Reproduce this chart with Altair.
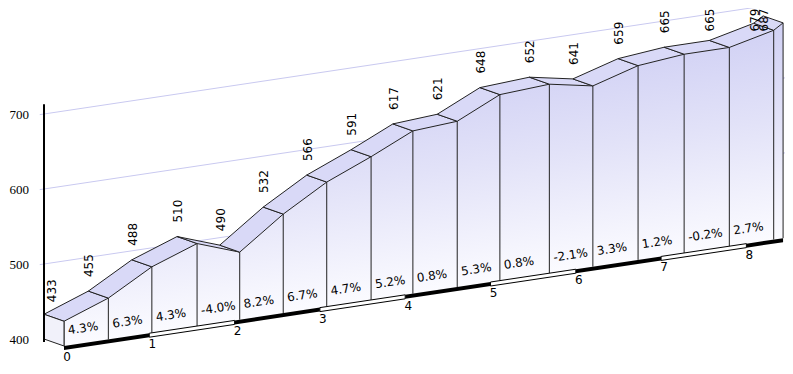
import altair as alt
import pandas as pd

# ---- data ----
dist_km = [0.00, 0.52, 1.03, 1.56, 2.06, 2.57, 3.08, 3.60, 4.09, 4.61,
           5.11, 5.69, 6.20, 6.73, 7.27, 7.80, 8.32, 8.43]
elev_m = [433, 455, 488, 510, 490, 532, 566, 591, 617, 621,
          648, 652, 641, 659, 665, 665, 679, 687]
grade_labels = ["4.3%", "6.3%", "4.3%", "-4.0%", "8.2%", "6.7%", "4.7%", "5.2%",
                "0.8%", "5.3%", "0.8%", "-2.1%", "3.3%", "1.2%", "-0.2%", "2.7%"]
km_ticks = [0, 1, 2, 3, 4, 5, 6, 7, 8]
elev_ticks = [400, 500, 600, 700]
grid_ticks = [500, 600, 700]
BASE = 400

# ---- oblique projection (layout parameters) ----
PX_PER_KM = 85.3
PX_PER_M = 0.75
SHEAR = 0.15             # screen rise per px along distance
DEPTH_PX = (-20, -7)     # back plane offset on screen
W, H = 777, 358
ORIGIN = (56, 338)       # plot px of (0 km, BASE) on the front plane

K = SHEAR * PX_PER_KM / PX_PER_M
DXK = DEPTH_PX[0] / PX_PER_KM
DYM = -DEPTH_PX[1] / PX_PER_M
XMIN = -ORIGIN[0] / PX_PER_KM
XMAX = XMIN + W / PX_PER_KM
YMAX = BASE + ORIGIN[1] / PX_PER_M
YMIN = YMAX - H / PX_PER_M


def px(d, back=False):
    return d + (DXK if back else 0.0)


def py(d, e, back=False):
    return e + K * d + (DYM if back else 0.0)


xs = alt.Scale(domain=[XMIN, XMAX], nice=False, zero=False)
ys = alt.Scale(domain=[YMIN, YMAX], nice=False, zero=False)
X = lambda f: alt.X(f, type="quantitative", scale=xs, axis=None)
Y = lambda f: alt.Y(f, type="quantitative", scale=ys, axis=None)

EDGE = "#222222"

# gridlines on back plane
grid = pd.DataFrame([{"t": t, "X": px(d, True), "Y": py(d, t, True)}
                     for t in grid_ticks for d in (-0.05, 9.0)])
grid_layer = alt.Chart(grid).mark_line(color="#c9c9f0", strokeWidth=1).encode(
    x=X("X"), y=Y("Y"), detail="t:N")

# front face (gradient by elevation)
front = pd.DataFrame({"X": [px(d) for d in dist_km],
                      "Yt": [py(d, e) for d, e in zip(dist_km, elev_m)],
                      "Yb": [py(d, BASE) for d in dist_km]})
Wb = dist_km[-1] * PX_PER_KM
Hb = max(PX_PER_M * (e - BASE) + SHEAR * PX_PER_KM * d for d, e in zip(dist_km, elev_m))
a = SHEAR * Wb / Hb
norm = a * a + 1


def t_of(e):
    return max(0.0, min(1.0, (1 - PX_PER_M * (e - BASE) / Hb) / norm))


grad = alt.Gradient(gradient="linear", x1=0, y1=0, x2=a, y2=1,
                    stops=[alt.GradientStop(offset=t_of(700), color="#cfcff4"),
                           alt.GradientStop(offset=t_of(560), color="#e2e2f8"),
                           alt.GradientStop(offset=t_of(BASE), color="#fbfbff")])
front_layer = alt.Chart(front).mark_area(color=grad, interpolate="linear").encode(
    x=X("X"), y=Y("Yt"), y2="Yb")

# top faces
rows = []
for i in range(len(dist_km) - 1):
    d0, d1, e0, e1 = dist_km[i], dist_km[i + 1], elev_m[i], elev_m[i + 1]
    verts = [(d0, e0, False), (d1, e1, False), (d1, e1, True), (d0, e0, True), (d0, e0, False)]
    for v, (d, e, b) in enumerate(verts):
        rows.append({"seg": i, "v": v, "X": px(d, b), "Y": py(d, e, b)})
top = pd.DataFrame(rows)
top_layer = alt.Chart(top).mark_line(fill="#d9d9f7", stroke=EDGE, strokeWidth=1,
                                     strokeJoin="round").encode(
    x=X("X"), y=Y("Y"), detail="seg:N", order="v:Q")

# left side face
d0, e0 = dist_km[0], elev_m[0]
side = pd.DataFrame([{"v": v, "X": px(d0, b), "Y": py(d0, e, b)} for v, (e, b) in enumerate(
    [(e0, True), (e0, False), (BASE, False), (BASE, True), (e0, True)])])
side_layer = alt.Chart(side).mark_line(fill="#f1f1fa", stroke=EDGE, strokeWidth=1).encode(
    x=X("X"), y=Y("Y"), order="v:Q")

# vertical edges
vert_layer = alt.Chart(front).mark_rule(color=EDGE, strokeWidth=1).encode(
    x=X("X"), y=Y("Yt"), y2="Yb")

# distance scale bar
BAR_M = 4 / PX_PER_M
bar_rows = []
edges = km_ticks + [dist_km[-1]]
for k in range(len(edges) - 1):
    for d in (edges[k], edges[k + 1]):
        bar_rows.append({"k": k, "fillc": "black" if k % 2 == 0 else "white",
                         "X": px(d), "Yt": py(d, BASE), "Yb": py(d, BASE - BAR_M)})
bar = pd.DataFrame(bar_rows)
bar_black = alt.Chart(bar).transform_filter("datum.fillc == 'black'").mark_area(
    color="black", interpolate="linear").encode(x=X("X"), y=Y("Yt"), y2="Yb", detail="k:N")
bar_white = alt.Chart(bar).transform_filter("datum.fillc == 'white'").mark_area(
    fill="white", stroke="black", strokeWidth=1, interpolate="linear").encode(
    x=X("X"), y=Y("Yt"), y2="Yb", detail="k:N")

FONT = "DejaVu Sans"

# grade labels
grades = pd.DataFrame({"X": [px(d) for d in dist_km[:-2]],
                       "Y": [py(d, BASE) + 15 / PX_PER_M for d in dist_km[:-2]],
                       "txt": grade_labels})
grade_layer = alt.Chart(grades).mark_text(font=FONT, fontSize=12, align="left", baseline="middle",
                                          angle=351.5, dx=4, color="black").encode(
    x=X("X"), y=Y("Y"), text="txt:N")

# elevation labels (kept inside the drawing area at the top)
LABEL_GAP_M = 14 / PX_PER_M
Y_LIMIT = YMAX - 23.5 / PX_PER_M
elev_df = pd.DataFrame({"i": list(range(len(dist_km))),
                        "X": [px(d, True) for d in dist_km],
                        "Y": [min(py(d, e, True) + LABEL_GAP_M, Y_LIMIT)
                              for d, e in zip(dist_km, elev_m)],
                        "txt": [str(e) for e in elev_m]})
elev_layer = alt.Chart(elev_df).transform_filter("datum.i > 0").mark_text(
    font=FONT, fontSize=12, align="left", baseline="middle", angle=270, dy=1,
    color="black").encode(x=X("X"), y=Y("Y"), text="txt:N")
elev_first = alt.Chart(elev_df).transform_filter("datum.i == 0").mark_text(
    font=FONT, fontSize=12, align="left", baseline="middle", angle=270, dx=-2, dy=8,
    color="black").encode(x=X("X"), y=Y("Y"), text="txt:N")

# km labels
kms = pd.DataFrame({"X": [px(k) for k in km_ticks], "Y": [py(k, BASE) for k in km_ticks],
                    "txt": [str(k) for k in km_ticks]})
km_layer = alt.Chart(kms).mark_text(font=FONT, fontSize=12, align="center", baseline="middle",
                                    dx=3, dy=11, color="black").encode(
    x=X("X"), y=Y("Y"), text="txt:N")

# y axis
yaxis = pd.DataFrame({"X": [px(0, True)], "Y1": [py(0, BASE - 4, True)],
                      "Y2": [py(0, 713, True)]})
yaxis_layer = alt.Chart(yaxis).mark_rule(color="black", strokeWidth=2).encode(
    x=X("X"), y=Y("Y1"), y2="Y2")
ylab = pd.DataFrame({"X": [px(0, True)] * len(elev_ticks),
                     "Y": [py(0, t, True) for t in elev_ticks],
                     "txt": [str(t) for t in elev_ticks]})
ylab_layer = alt.Chart(ylab).mark_text(font="Liberation Serif", fontSize=13, align="right",
                                       baseline="middle", dx=-15, dy=1, color="black").encode(
    x=X("X"), y=Y("Y"), text="txt:N")

chart = alt.layer(
    grid_layer, front_layer, top_layer, vert_layer, side_layer,
    bar_black, bar_white, grade_layer, elev_layer, elev_first, km_layer,
    yaxis_layer, ylab_layer
).properties(width=W, height=H, padding=0, autosize="none",
             background="white").configure_view(stroke=None)

chart.save("out.html", embed_options={"renderer": "svg", "actions": False})
